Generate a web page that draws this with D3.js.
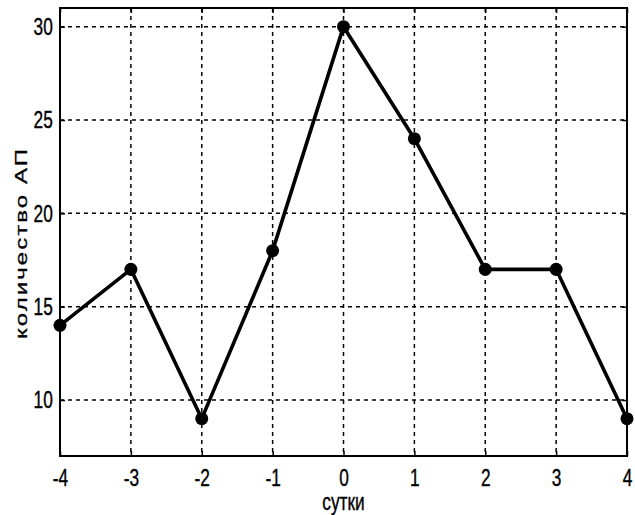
<!DOCTYPE html>
<html>
<head>
<meta charset="utf-8">
<script src="https://cdn.jsdelivr.net/npm/d3@7"></script>
<style>
  body { margin: 0; background: #fff; }
  svg text { font-family: Arial, "Liberation Sans", Helvetica, sans-serif; fill: #000; stroke: #000; stroke-width: 0.4px; }
</style>
</head>
<body>
<div id="chart"></div>
<script>
var days = [-4, -3, -2, -1, 0, 1, 2, 3, 4]
var counts = [14, 17, 9, 18, 30, 24, 17, 17, 9]
var xTicks = [-4, -3, -2, -1, 0, 1, 2, 3, 4]
var yTicks = [10, 15, 20, 25, 30]

var W = 635, H = 515
var margin = {top: 8, right: 8, bottom: 59, left: 60},
    width = W - margin.left - margin.right,
    height = H - margin.top - margin.bottom

// the reference looks squeezed horizontally, text too
var squeeze = 0.72
var fontSize = '24px'

var x = d3.scaleLinear().domain([-4, 4]).range([0, width])
var y = d3.scaleLinear().domain([7, 31]).range([height, 0])

var svg = d3.select('#chart').append('svg')
    .attr('width', W)
    .attr('height', H)
  .append('g')
    .attr('transform', 'translate(' + margin.left + ',' + margin.top + ')')

// grid
svg.append('g').selectAll('line')
    .data(xTicks.slice(1, -1))
  .enter().append('line')
    .attr('x1', function(d){ return x(d) }).attr('x2', function(d){ return x(d) })
    .attr('y1', 0).attr('y2', height)
    .attr('stroke', '#000').attr('stroke-width', 1.5).attr('stroke-dasharray', '4,4')

svg.append('g').selectAll('line')
    .data(yTicks)
  .enter().append('line')
    .attr('y1', function(d){ return y(d) }).attr('y2', function(d){ return y(d) })
    .attr('x1', 0).attr('x2', width)
    .attr('stroke', '#000').attr('stroke-width', 1.5).attr('stroke-dasharray', '4,4')

// axes, ticks pointing inward like matlab
function styleAxis(g) {
  g.select('.domain').remove()
  g.selectAll('.tick line').attr('stroke', '#000').attr('stroke-width', 1.5)
}

// plain hyphen for negatives, as in the picture
var fmt = function(d){ return String(d) }

var xAxis = svg.append('g')
    .attr('transform', 'translate(0,' + height + ')')
    .call(d3.axisBottom(x).tickValues(xTicks).tickSizeInner(-5).tickSizeOuter(0).tickPadding(13).tickFormat(fmt))
xAxis.call(styleAxis)
xAxis.selectAll('text').attr('font-size', fontSize).attr('transform', 'scale(' + squeeze + ',1)')

svg.append('g')
    .call(d3.axisTop(x).tickValues(xTicks).tickSizeInner(-5).tickSizeOuter(0).tickFormat(''))
    .call(styleAxis)

var yAxis = svg.append('g')
    .call(d3.axisLeft(y).tickValues(yTicks).tickSizeInner(-5).tickSizeOuter(0).tickPadding(10).tickFormat(fmt))
yAxis.call(styleAxis)
yAxis.selectAll('text').attr('font-size', fontSize).attr('transform', 'scale(' + squeeze + ',1)')

svg.append('g')
    .attr('transform', 'translate(' + width + ',0)')
    .call(d3.axisRight(y).tickValues(yTicks).tickSizeInner(-5).tickSizeOuter(0).tickFormat(''))
    .call(styleAxis)

// box
svg.append('rect')
    .attr('x', 0).attr('y', 0)
    .attr('width', width).attr('height', height)
    .attr('fill', 'none').attr('stroke', '#000').attr('stroke-width', 2)

// line + markers
var pts = days.map(function(d, i){ return {day: d, count: counts[i]} })

var line = d3.line()
    .x(function(d){ return x(d.day) })
    .y(function(d){ return y(d.count) })

svg.append('path')
    .datum(pts)
    .attr('d', line)
    .attr('fill', 'none')
    .attr('stroke', '#000')
    .attr('stroke-width', 3.6)
    .attr('stroke-linejoin', 'round')

svg.selectAll('.pt')
    .data(pts)
  .enter().append('circle')
    .attr('class', 'pt')
    .attr('cx', function(d){ return x(d.day) })
    .attr('cy', function(d){ return y(d.count) })
    .attr('r', 6.5)
    .attr('fill', '#000')

// axis titles
svg.append('text')
    .attr('transform', 'translate(' + (width / 2) + ',' + (height + 54) + ') scale(' + squeeze + ',1)')
    .attr('text-anchor', 'middle')
    .attr('font-size', fontSize)
    .text('сутки')

svg.append('text')
    .attr('transform', 'translate(-33,' + (height / 2 + 12) + ') rotate(-90) scale(1,' + squeeze + ')')
    .attr('text-anchor', 'middle')
    .attr('font-size', fontSize)
    .attr('textLength', 190)
    .attr('lengthAdjust', 'spacing')
    .text('количество АП')
</script>
</body>
</html>
